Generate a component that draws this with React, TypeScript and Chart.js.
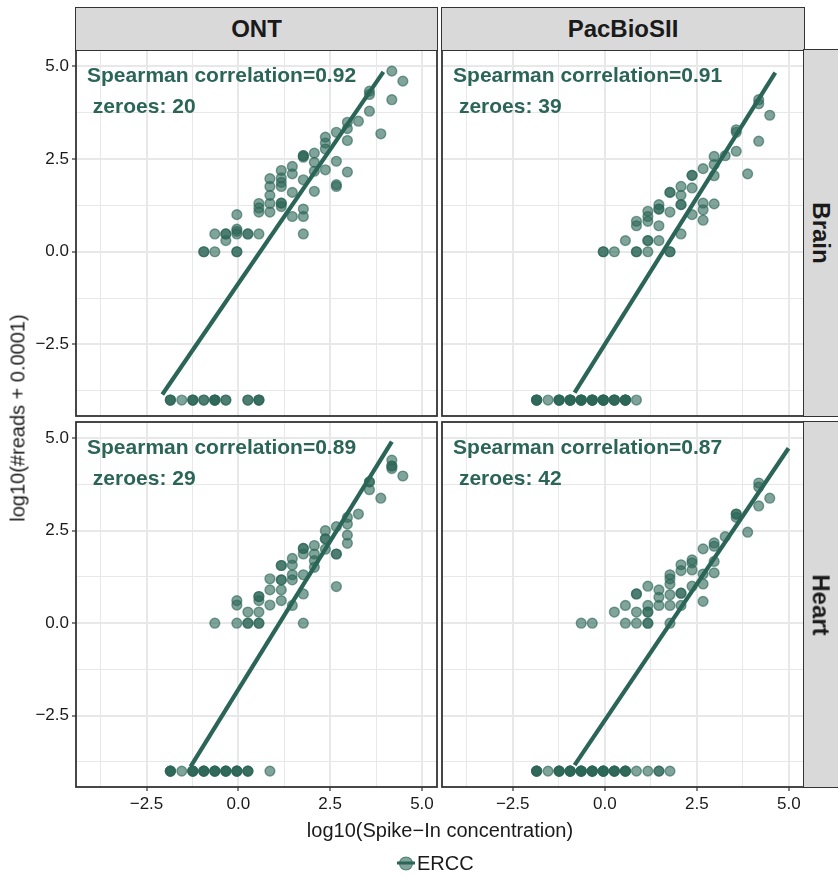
import React, { useEffect, useRef } from "react";
import { Chart, registerables } from "chart.js";

Chart.register(...registerables);

// ---------- data ----------
const ZERO_Y = -4; // log10(0 + 0.0001)

const ontBrainX = [-0.94, -0.94, -0.64, -0.64, -0.34, -0.34, -0.34, -0.04, -0.04, -0.04, -0.04, -0.04, -0.04, 0.26, 0.26, 0.56, 0.56, 0.56, 0.56, 0.86, 0.86, 0.86, 0.86, 0.86, 1.17, 1.17, 1.17, 1.17, 1.17, 1.17, 1.17, 1.47, 1.47, 1.47, 1.47, 1.77, 1.77, 1.77, 1.77, 1.77, 1.77, 1.77, 2.07, 2.07, 2.07, 2.07, 2.37, 2.37, 2.37, 2.37, 2.67, 2.67, 2.67, 2.67, 2.97, 2.97, 2.97, 2.97, 3.27, 3.57, 3.57, 3.57, 3.88, 4.18, 4.18, 4.48];
const ontBrainY = [0, 0, 0, 0.48, 0.48, 0.48, 0.3, 0, 0, 0.61, 0.55, 0.48, 1.0, 0.48, 0.48, 0.48, 1.3, 1.18, 1.07, 1.97, 1.76, 1.52, 1.3, 1.07, 2.19, 1.99, 1.87, 1.76, 1.31, 1.31, 1.22, 2.3, 2.1, 1.6, 0.95, 2.59, 2.59, 2.55, 1.94, 1.15, 0.95, 0.48, 2.66, 2.41, 2.17, 1.63, 3.09, 2.93, 2.77, 2.21, 3.22, 2.44, 1.81, 1.76, 3.49, 3.32, 3.0, 2.15, 3.52, 4.33, 4.24, 3.79, 3.18, 4.87, 4.1, 4.6];
const ontBrainZeroX = [-1.85, -1.85, -1.85, -1.54, -1.24, -1.24, -1.24, -0.94, -0.94, -0.64, -0.64, -0.64, -0.64, -0.34, -0.34, 0.26, 0.26, 0.56, 0.56, 0.56];
const ontBrainLineX = [-2.07, 3.95];
const ontBrainLineY = [-3.85, 4.85];

const pacBrainX = [-0.04, -0.04, 0.26, 0.56, 0.86, 0.86, 0.86, 0.86, 1.17, 1.17, 1.17, 1.17, 1.17, 1.17, 1.47, 1.47, 1.47, 1.47, 1.47, 1.77, 1.77, 1.77, 1.77, 1.77, 2.07, 2.07, 2.07, 2.07, 2.07, 2.37, 2.37, 2.37, 2.37, 2.67, 2.67, 2.67, 2.67, 2.97, 2.97, 2.97, 2.97, 3.27, 3.57, 3.57, 3.57, 3.88, 4.18, 4.18, 4.18, 4.48];
const pacBrainY = [0, 0, 0, 0.3, 0, 0, 0.82, 0.7, 0, 0.3, 0.3, 1.09, 0.95, 0.82, 0.3, 0.7, 1.27, 1.15, 1.15, 0, 0, 1.6, 1.6, 1.07, 0.48, 1.27, 1.27, 1.52, 1.76, 2.06, 2.06, 1.72, 1.0, 2.24, 1.31, 1.13, 0.85, 2.57, 2.35, 2.05, 1.29, 2.59, 3.29, 3.22, 2.71, 2.1, 4.1, 3.99, 2.98, 3.68];
const pacBrainZeroX = [-1.85, -1.85, -1.85, -1.85, -1.54, -1.24, -1.24, -1.24, -1.24, -0.94, -0.94, -0.94, -0.94, -0.94, -0.64, -0.64, -0.64, -0.64, -0.64, -0.34, -0.34, -0.34, -0.34, -0.34, -0.04, -0.04, -0.04, -0.04, -0.04, 0.26, 0.26, 0.26, 0.26, 0.56, 0.56, 0.56, 0.56, 0.56, 0.86];
const pacBrainLineX = [-0.82, 4.63];
const pacBrainLineY = [-3.8, 4.83];

const ontHeartX = [-0.64, -0.04, -0.04, -0.04, 0.26, 0.26, 0.26, 0.56, 0.56, 0.56, 0.56, 0.56, 0.56, 0.86, 0.86, 0.86, 1.17, 1.17, 1.17, 1.17, 1.17, 1.17, 1.47, 1.47, 1.47, 1.47, 1.47, 1.77, 1.77, 1.77, 1.77, 1.77, 1.77, 2.07, 2.07, 2.07, 2.07, 2.37, 2.37, 2.37, 2.37, 2.67, 2.67, 2.67, 2.67, 2.97, 2.97, 2.97, 2.97, 3.27, 3.57, 3.57, 3.57, 3.88, 4.18, 4.18, 4.18, 4.18, 4.48];
const ontHeartY = [0, 0, 0.49, 0.61, 0, 0, 0.3, 0, 0, 0.3, 0.61, 0.72, 0.72, 0.49, 0.9, 1.2, 0.61, 0.9, 1.17, 1.17, 1.56, 1.56, 0.48, 1.17, 1.31, 1.57, 1.75, 0, 0.79, 1.31, 1.87, 2.02, 2.02, 1.51, 1.69, 1.87, 2.1, 2.0, 2.28, 2.28, 2.5, 1.87, 1.87, 0.99, 2.61, 2.86, 2.68, 2.38, 2.16, 2.95, 3.82, 3.82, 3.61, 3.38, 4.41, 4.25, 4.25, 4.18, 3.98];
const ontHeartZeroX = [-1.85, -1.85, -1.85, -1.85, -1.54, -1.24, -1.24, -1.24, -1.24, -0.94, -0.94, -0.94, -0.94, -0.64, -0.64, -0.64, -0.64, -0.34, -0.34, -0.34, -0.34, -0.04, -0.04, -0.04, -0.04, 0.26, 0.26, 0.26, 0.86];
const ontHeartLineX = [-1.3, 4.18];
const ontHeartLineY = [-3.88, 4.91];

const pacHeartX = [-0.64, -0.34, 0.26, 0.56, 0.56, 0.86, 0.86, 0.86, 0.86, 1.17, 1.17, 1.17, 1.17, 1.17, 1.17, 1.47, 1.47, 1.47, 1.77, 1.77, 1.77, 1.77, 1.77, 1.77, 2.07, 2.07, 2.07, 2.07, 2.07, 2.37, 2.37, 2.37, 2.37, 2.67, 2.67, 2.67, 2.67, 2.97, 2.97, 2.97, 2.97, 3.27, 3.57, 3.57, 3.57, 3.88, 4.18, 4.18, 4.18, 4.48];
const pacHeartY = [0, 0, 0.3, 0, 0.48, 0, 0.3, 0.79, 0.79, 0, 0, 0.3, 0.3, 0.48, 1.0, 0.48, 0.7, 0.9, 0, 0.48, 0.77, 1.06, 1.2, 1.31, 0.48, 0.81, 0.81, 1.42, 1.58, 1.0, 1.44, 1.63, 1.71, 0.59, 1.06, 1.33, 2.01, 1.36, 1.67, 2.08, 2.17, 2.34, 2.95, 2.95, 2.86, 2.46, 3.79, 3.68, 3.17, 3.38];
const pacHeartZeroX = [-1.85, -1.85, -1.85, -1.85, -1.54, -1.24, -1.24, -1.24, -1.24, -0.94, -0.94, -0.94, -0.94, -0.94, -0.64, -0.64, -0.64, -0.64, -0.64, -0.34, -0.34, -0.34, -0.34, -0.34, -0.04, -0.04, -0.04, -0.04, -0.04, 0.26, 0.26, 0.26, 0.26, 0.56, 0.56, 0.56, 0.56, 0.86, 1.17, 1.47, 1.47, 1.77];
const pacHeartLineX = [-0.82, 4.99];
const pacHeartLineY = [-3.84, 4.73];

const correlations = ["0.92", "0.91", "0.89", "0.87"];
const zeroCounts = [20, 39, 29, 42];
const platforms = ["ONT", "PacBioSII"];
const tissues = ["Brain", "Heart"];

const gridTicks = [-3.75, -2.5, -1.25, 0, 1.25, 2.5, 3.75, 5];
const labelledTicks = [-2.5, 0, 2.5, 5];

// ---------- style ----------
const FONT = "'Liberation Sans', Arial, Helvetica, sans-serif";
const BASE = "#2b6557";
const POINT_FILL = "rgba(43,101,87,0.6)";
const GRID_COLOR = "#e8e8e8";
const X_MIN = -4.42;
const X_MAX = 5.41;
const Y_MIN = -4.43;
const Y_MAX = 5.44;
const ANNOT_X = -4.12;
const ANNOT_Y = [4.73, 3.9];

const fmt = (v: number) => (v < 0 ? "\u2212" + Math.abs(v).toFixed(1) : v.toFixed(1));
const isMajor = (v: number) => labelledTicks.indexOf(v) >= 0;

type PanelDef = {
  left: number; top: number; width: number; height: number;
  pad: { left: number; top: number; right: number; bottom: number };
  yW: number; xH: number; showX: boolean; showY: boolean;
  xs: number[]; ys: number[]; zeros: number[]; lineX: number[]; lineY: number[];
  corr: string; zeroes: number;
};

const panels: PanelDef[] = [
  { left: 0, top: 30, width: 457, height: 406, pad: { left: 0, top: 20, right: 20, bottom: 20 }, yW: 76, xH: 0, showX: false, showY: true,
    xs: ontBrainX, ys: ontBrainY, zeros: ontBrainZeroX, lineX: ontBrainLineX, lineY: ontBrainLineY, corr: correlations[0], zeroes: zeroCounts[0] },
  { left: 422, top: 30, width: 402, height: 406, pad: { left: 20, top: 20, right: 20, bottom: 20 }, yW: 0, xH: 0, showX: false, showY: false,
    xs: pacBrainX, ys: pacBrainY, zeros: pacBrainZeroX, lineX: pacBrainLineX, lineY: pacBrainLineY, corr: correlations[1], zeroes: zeroCounts[1] },
  { left: 0, top: 402, width: 457, height: 420, pad: { left: 0, top: 20, right: 20, bottom: 5 }, yW: 76, xH: 30, showX: true, showY: true,
    xs: ontHeartX, ys: ontHeartY, zeros: ontHeartZeroX, lineX: ontHeartLineX, lineY: ontHeartLineY, corr: correlations[2], zeroes: zeroCounts[2] },
  { left: 422, top: 402, width: 402, height: 420, pad: { left: 20, top: 20, right: 20, bottom: 5 }, yW: 0, xH: 30, showX: true, showY: false,
    xs: pacHeartX, ys: pacHeartY, zeros: pacHeartZeroX, lineX: pacHeartLineX, lineY: pacHeartLineY, corr: correlations[3], zeroes: zeroCounts[3] },
];

function axisOptions(min: number, max: number, show: boolean, size: number, horizontal: boolean) {
  return {
    type: "linear" as const,
    min,
    max,
    afterBuildTicks: (s: any) => {
      s.ticks = gridTicks.map((v) => ({ value: v }));
    },
    afterFit: (s: any) => {
      if (horizontal) s.height = size;
      else s.width = size;
    },
    border: { display: false },
    grid: {
      color: GRID_COLOR,
      lineWidth: (c: any) => (c.tick && isMajor(c.tick.value) ? 2 : 1),
      drawTicks: show,
      tickLength: 4,
      tickWidth: 1.2,
      tickColor: (c: any) => (c.tick && isMajor(c.tick.value) ? "#333333" : "rgba(0,0,0,0)"),
    },
    ticks: {
      display: show,
      autoSkip: false,
      maxRotation: 0,
      padding: 3,
      color: "#1a1a1a",
      font: { family: FONT, size: 17 },
      callback: (v: any) => (isMajor(Number(v)) ? fmt(Number(v)) : ""),
    },
  };
}

function Panel({ def }: { def: PanelDef }) {
  const ref = useRef<HTMLCanvasElement>(null);
  useEffect(() => {
    const canvas = ref.current;
    if (!canvas) return;
    const points = def.xs
      .map((x, i) => ({ x, y: def.ys[i] }))
      .concat(def.zeros.map((x) => ({ x, y: ZERO_Y })));
    const line = def.lineX.map((x, i) => ({ x, y: def.lineY[i] }));
    const texts = ["Spearman correlation=" + def.corr, " zeroes: " + def.zeroes];
    const deco = {
      id: "panelDeco",
      afterDraw(chart: any) {
        const { ctx, chartArea, scales } = chart;
        ctx.save();
        ctx.font = `bold 21px ${FONT}`;
        ctx.fillStyle = BASE;
        ctx.textAlign = "left";
        ctx.textBaseline = "middle";
        texts.forEach((t, i) => {
          ctx.fillText(t, scales.x.getPixelForValue(ANNOT_X), scales.y.getPixelForValue(ANNOT_Y[i]));
        });
        ctx.strokeStyle = "#333333";
        ctx.lineWidth = 1.8;
        ctx.strokeRect(chartArea.left, chartArea.top, chartArea.right - chartArea.left, chartArea.bottom - chartArea.top);
        ctx.restore();
      },
    };
    const chart = new Chart(canvas, {
      type: "scatter",
      data: {
        datasets: [
          {
            label: "fit",
            data: line,
            showLine: true,
            borderColor: BASE,
            borderWidth: 4.2,
            borderCapStyle: "butt",
            pointRadius: 0,
            order: 0,
          } as any,
          {
            label: "ERCC",
            data: points,
            pointRadius: 4.9,
            pointBackgroundColor: POINT_FILL,
            pointBorderColor: POINT_FILL,
            pointBorderWidth: 1.4,
            order: 1,
          },
        ],
      },
      options: {
        responsive: false,
        animation: false,
        devicePixelRatio: 1,
        events: [],
        layout: { padding: def.pad },
        plugins: { legend: { display: false }, tooltip: { enabled: false } },
        scales: {
          x: axisOptions(X_MIN, X_MAX, def.showX, def.xH, true) as any,
          y: axisOptions(Y_MIN, Y_MAX, def.showY, def.yW, false) as any,
        },
      },
      plugins: [deco],
    });
    return () => chart.destroy();
  }, [def]);
  return (
    <canvas
      ref={ref}
      width={def.width}
      height={def.height}
      style={{ position: "absolute", left: def.left, top: def.top, width: def.width, height: def.height }}
    />
  );
}

const stripBase: React.CSSProperties = {
  position: "absolute",
  background: "#d9d9d9",
  border: "1.8px solid #333333",
  boxSizing: "border-box",
  display: "flex",
  alignItems: "center",
  justifyContent: "center",
  fontWeight: "bold",
  fontSize: 24,
  color: "#1a1a1a",
  fontFamily: FONT,
};

export default function App() {
  return (
    <div
      style={{
        position: "absolute",
        left: 0,
        top: 0,
        width: 838,
        height: 877,
        overflow: "hidden",
        background: "#ffffff",
        fontFamily: FONT,
      }}
    >
      {panels.map((p, i) => (
        <Panel key={i} def={p} />
      ))}
      <div style={{ ...stripBase, left: 75, top: 7, width: 363, height: 44 }}>{platforms[0]}</div>
      <div style={{ ...stripBase, left: 441, top: 7, width: 364, height: 44 }}>{platforms[1]}</div>
      <div style={{ ...stripBase, left: 803, top: 49, width: 50, height: 368 }}>
        <span style={{ transform: "rotate(90deg)", whiteSpace: "nowrap", marginRight: 14 }}>{tissues[0]}</span>
      </div>
      <div style={{ ...stripBase, left: 803, top: 421, width: 50, height: 367 }}>
        <span style={{ transform: "rotate(90deg)", whiteSpace: "nowrap", marginRight: 14 }}>{tissues[1]}</span>
      </div>
      <div
        style={{
          position: "absolute",
          left: 18,
          top: 418,
          transform: "translate(-50%, -50%) rotate(-90deg)",
          whiteSpace: "nowrap",
          fontSize: 20,
          color: "#1a1a1a",
        }}
      >
        log10(#reads + 0.0001)
      </div>
      <div
        style={{
          position: "absolute",
          left: 440,
          top: 830,
          transform: "translate(-50%, -50%)",
          whiteSpace: "nowrap",
          fontSize: 20,
          color: "#1a1a1a",
        }}
      >
        log10(Spike{"\u2212"}In concentration)
      </div>
      <div
        style={{
          position: "absolute",
          left: 397,
          top: 863,
          transform: "translateY(-50%)",
          display: "flex",
          alignItems: "center",
          whiteSpace: "nowrap",
          fontSize: 20,
          color: "#1a1a1a",
        }}
      >
        <span style={{ position: "relative", width: 18, height: 16, display: "inline-block", marginRight: 2 }}>
          <span
            style={{
              position: "absolute",
              left: 2,
              top: 1,
              width: 14,
              height: 14,
              borderRadius: "50%",
              background: POINT_FILL,
              boxSizing: "border-box",
              border: "1.3px solid " + POINT_FILL,
            }}
          />
          <span style={{ position: "absolute", left: 0, top: 6.5, width: 18, height: 3, background: BASE }} />
        </span>
        ERCC
      </div>
    </div>
  );
}
